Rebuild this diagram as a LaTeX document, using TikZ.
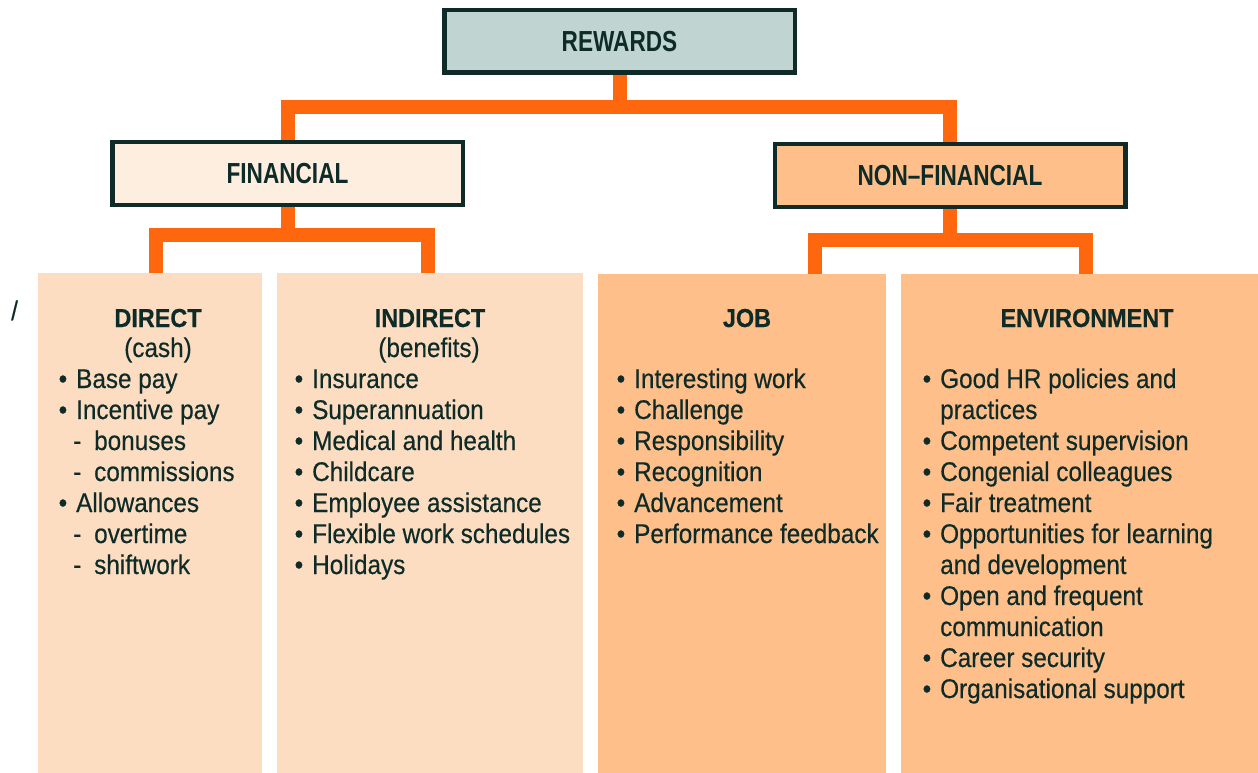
\documentclass[tikz,border=0pt]{standalone}
\usepackage{fontspec}
\newfontfamily\bodyfont[FakeStretch=0.9,FakeBold=0.4]{Liberation Sans}
\newfontfamily\boxfont[FakeStretch=0.78]{Liberation Sans}
\definecolor{ink}{HTML}{0E2B28}
\definecolor{linkorange}{HTML}{FF670F}
\definecolor{topfill}{HTML}{C0D4D2}
\definecolor{finfill}{HTML}{FEEEDF}
\definecolor{nonfinfill}{HTML}{FEBF8B}
\definecolor{finlight}{HTML}{FDDDC2}
\newcommand\itemdot{\llap{\makebox[17.5pt][l]{•}}}
\newcommand\itemdash{\hspace{18pt}\llap{\makebox[21pt][l]{-}}}
\newcommand\itemcont{}
\begin{document}
\begin{tikzpicture}[x=1pt,y=-1pt,
  headbox/.style={draw=ink,line width=4.5pt,minimum width=350.5pt,minimum height=62.5pt,inner sep=0pt,text=ink,font=\boxfont\bfseries\fontsize{29}{31}\selectfont},
  colbox/.style={inner sep=0pt,anchor=north west},
  colhead/.style={anchor=base,inner sep=0pt,text=ink,font=\bodyfont\bfseries\fontsize{26}{30}\selectfont},
  colsub/.style={anchor=base,inner sep=0pt,text=ink,font=\bodyfont\fontsize{27}{31}\selectfont},
  entry/.style={anchor=base west,inner sep=0pt,text=ink,font=\bodyfont\fontsize{27}{31}\selectfont},
  link/.style={draw=linkorange,line width=14pt,line join=miter}]
 \useasboundingbox (0,0) rectangle (1258,773);
 % columns
 \node[colbox,fill=finlight,minimum width=224pt,minimum height=500.3pt] (direct) at (38,272.7) {};
 \node[colbox,fill=finlight,minimum width=306pt,minimum height=500.3pt] (indirect) at (277,272.7) {};
 \node[colbox,fill=nonfinfill,minimum width=288pt,minimum height=499pt] (job) at (598,274) {};
 \node[colbox,fill=nonfinfill,minimum width=357pt,minimum height=499pt] (environment) at (901,274) {};
 % boxes
 \node[headbox,fill=topfill] (rewards) at (619.5,41.5) {REWARDS};
 \node[headbox,fill=finfill] (financial) at (287.5,173.5) {FINANCIAL};
 \node[headbox,fill=nonfinfill] (nonfinancial) at (950,175.5) {NON–FINANCIAL};
 % links
 \coordinate (bar1) at (0,107);
 \coordinate (bar2) at (0,234.5);
 \coordinate (bar3) at (0,239.5);
 \draw[link] (rewards.south) -- (rewards.south |- bar1);
 \draw[link] (financial.north) |- (rewards.south |- bar1) -| (nonfinancial.north);
 \draw[link] (financial.south) -- (financial.south |- bar2);
 \draw[link] ([xshift=6pt]direct.north) |- (financial.south |- bar2) -| ([xshift=-2pt]indirect.north);
 \draw[link] (nonfinancial.south) -- (nonfinancial.south |- bar3);
 \draw[link] ([xshift=73pt]job.north) |- (nonfinancial.south |- bar3) -| ([xshift=6.5pt]environment.north);
 % headings
 \node[colhead] (directhead) at (158,327) {DIRECT};
 \node[colsub] (directsub) at (158,357) {(cash)};
 \node[colhead] (indirecthead) at (430,327) {INDIRECT};
 \node[colsub] (indirectsub) at (429,357) {(benefits)};
 \node[colhead] (jobhead) at (747,327) {JOB};
 \node[colhead] (environmenthead) at (1087,327) {ENVIRONMENT};
 \node[entry] (slash) at (11,320) {/};
 % lists
 \foreach \kind/\txt [count=\i] in {dot/Base pay,dot/Incentive pay,dash/bonuses,dash/commissions,dot/Allowances,dash/overtime,dash/shiftwork}
  \node[entry] (direct-\i) at (76,{388+31*(\i-1)}) {\csname item\kind\endcsname\txt};
 \foreach \kind/\txt [count=\i] in {dot/Insurance,dot/Superannuation,dot/Medical and health,dot/Childcare,dot/Employee assistance,dot/Flexible work schedules,dot/Holidays}
  \node[entry] (indirect-\i) at (312,{388+31*(\i-1)}) {\csname item\kind\endcsname\txt};
 \foreach \kind/\txt [count=\i] in {dot/Interesting work,dot/Challenge,dot/Responsibility,dot/Recognition,dot/Advancement,dot/Performance feedback}
  \node[entry] (job-\i) at (634,{388+31*(\i-1)}) {\csname item\kind\endcsname\txt};
 \foreach \kind/\txt [count=\i] in {dot/Good HR policies and,cont/practices,dot/Competent supervision,dot/Congenial colleagues,dot/Fair treatment,dot/Opportunities for learning,cont/and development,dot/Open and frequent,cont/communication,dot/Career security,dot/Organisational support}
  \node[entry] (environment-\i) at (940,{388+31*(\i-1)}) {\csname item\kind\endcsname\txt};
\end{tikzpicture}
\end{document}
